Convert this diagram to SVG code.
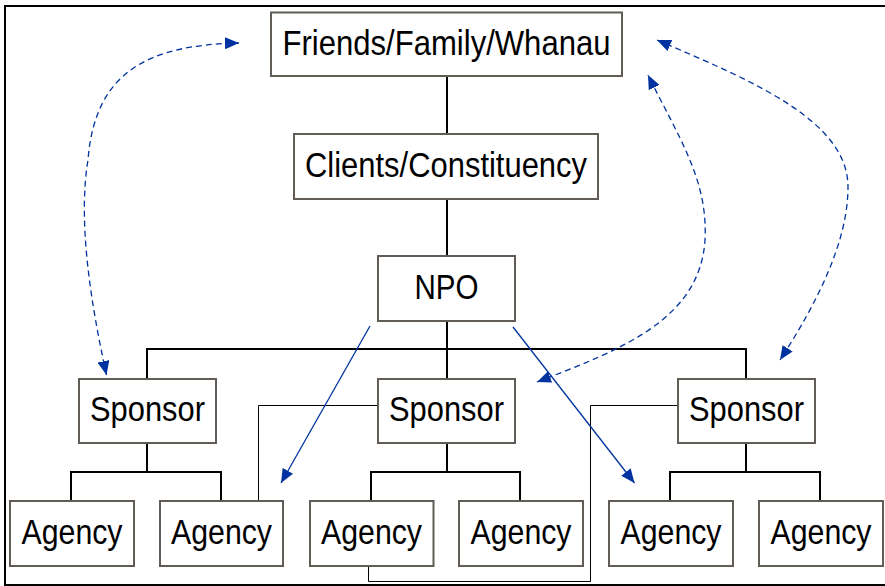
<svg xmlns="http://www.w3.org/2000/svg" width="885" height="586" viewBox="0 0 885 586">
  <defs>
    <style>
      .box { fill: #ffffff; stroke: #615c56; stroke-width: 2; }
      .lbl { font-family: "Liberation Sans", Arial, sans-serif; font-size: 34.5px; fill: #000000; text-anchor: middle; }
      .tree { fill: none; stroke: #000000; stroke-width: 2; }
      .thin { fill: none; stroke: #000000; stroke-width: 1; }
      .solid { fill: none; stroke: #0033a0; stroke-width: 1.3; }
      .dash { fill: none; stroke: #0033a0; stroke-width: 1.3; stroke-dasharray: 6 4; }
    </style>
    <marker id="arrow" viewBox="0 0 14 12" refX="14" refY="6" markerWidth="14" markerHeight="12" markerUnits="userSpaceOnUse" orient="auto-start-reverse">
      <path d="M0,0 L14,6 L0,12 Z" fill="#0033a0"/>
    </marker>
  </defs>
  <rect x="0" y="0" width="885" height="586" fill="#ffffff"/>
  <rect x="5" y="6" width="895" height="579" fill="none" stroke="#000000" stroke-width="2"/>

  <g id="connectors">
    <path class="tree" d="M447,76 V134 M447,199 V256 M447,321 V349"/>
    <path class="tree" d="M147,379 V349 H746 V379 M447,349 V379"/>
    <path class="tree" d="M147,443 V472 M71,501 V472 H221 V501"/>
    <path class="tree" d="M447,443 V472 M371,501 V472 H520 V501"/>
    <path class="tree" d="M746,443 V472 M670,501 V472 H820 V501"/>
    <path class="thin" d="M378,405.5 H258.5 V505"/>
    <path class="thin" d="M678,405.5 H590.5 V581.5 H368.5 V561"/>
    <path class="solid" d="M370,326 L281,483" marker-end="url(#arrow)"/>
    <path class="solid" d="M513,327 L634.5,483" marker-end="url(#arrow)"/>
    <path class="dash" d="M106.5,375 C90,300 78,220 88,160 C95,70 150,45 239,43" marker-start="url(#arrow)" marker-end="url(#arrow)"/>
    <path class="dash" d="M537,382 C620,350 700,320 705,240 C708,180 680,140 648,75" marker-start="url(#arrow)" marker-end="url(#arrow)"/>
    <path class="dash" d="M657,40 C750,80 848,120 848,187 C848,240 819,300 780,360" marker-start="url(#arrow)" marker-end="url(#arrow)"/>
  </g>

  <g id="friends">
    <rect class="box" x="271" y="12.5" width="351" height="63.5"/>
    <text class="lbl" x="446.5" y="55" textLength="328" lengthAdjust="spacingAndGlyphs">Friends/Family/Whanau</text>
  </g>
  <g id="clients">
    <rect class="box" x="294" y="134" width="304" height="65"/>
    <text class="lbl" x="446" y="177" textLength="282" lengthAdjust="spacingAndGlyphs">Clients/Constituency</text>
  </g>
  <g id="npo">
    <rect class="box" x="378" y="256" width="137" height="65"/>
    <text class="lbl" x="446.5" y="298.5" textLength="64" lengthAdjust="spacingAndGlyphs">NPO</text>
  </g>
  <g id="sponsor1">
    <rect class="box" x="79" y="379" width="137" height="64"/>
    <text class="lbl" x="147.5" y="421" textLength="115" lengthAdjust="spacingAndGlyphs">Sponsor</text>
  </g>
  <g id="sponsor2">
    <rect class="box" x="378" y="379" width="137" height="64"/>
    <text class="lbl" x="446.5" y="421" textLength="115" lengthAdjust="spacingAndGlyphs">Sponsor</text>
  </g>
  <g id="sponsor3">
    <rect class="box" x="678" y="379" width="137" height="64"/>
    <text class="lbl" x="746.5" y="421" textLength="115" lengthAdjust="spacingAndGlyphs">Sponsor</text>
  </g>
  <g id="agency1">
    <rect class="box" x="10" y="501" width="124" height="65"/>
    <text class="lbl" x="72" y="543.5" textLength="101" lengthAdjust="spacingAndGlyphs">Agency</text>
  </g>
  <g id="agency2">
    <rect class="box" x="160" y="501" width="123" height="65"/>
    <text class="lbl" x="221.5" y="543.5" textLength="101" lengthAdjust="spacingAndGlyphs">Agency</text>
  </g>
  <g id="agency3">
    <rect class="box" x="310" y="501" width="123.5" height="65"/>
    <text class="lbl" x="371.5" y="543.5" textLength="101" lengthAdjust="spacingAndGlyphs">Agency</text>
  </g>
  <g id="agency4">
    <rect class="box" x="459" y="501" width="124" height="65"/>
    <text class="lbl" x="521" y="543.5" textLength="101" lengthAdjust="spacingAndGlyphs">Agency</text>
  </g>
  <g id="agency5">
    <rect class="box" x="609" y="501" width="124" height="65"/>
    <text class="lbl" x="671" y="543.5" textLength="101" lengthAdjust="spacingAndGlyphs">Agency</text>
  </g>
  <g id="agency6">
    <rect class="box" x="759" y="501" width="124" height="65"/>
    <text class="lbl" x="821" y="543.5" textLength="101" lengthAdjust="spacingAndGlyphs">Agency</text>
  </g>
</svg>
